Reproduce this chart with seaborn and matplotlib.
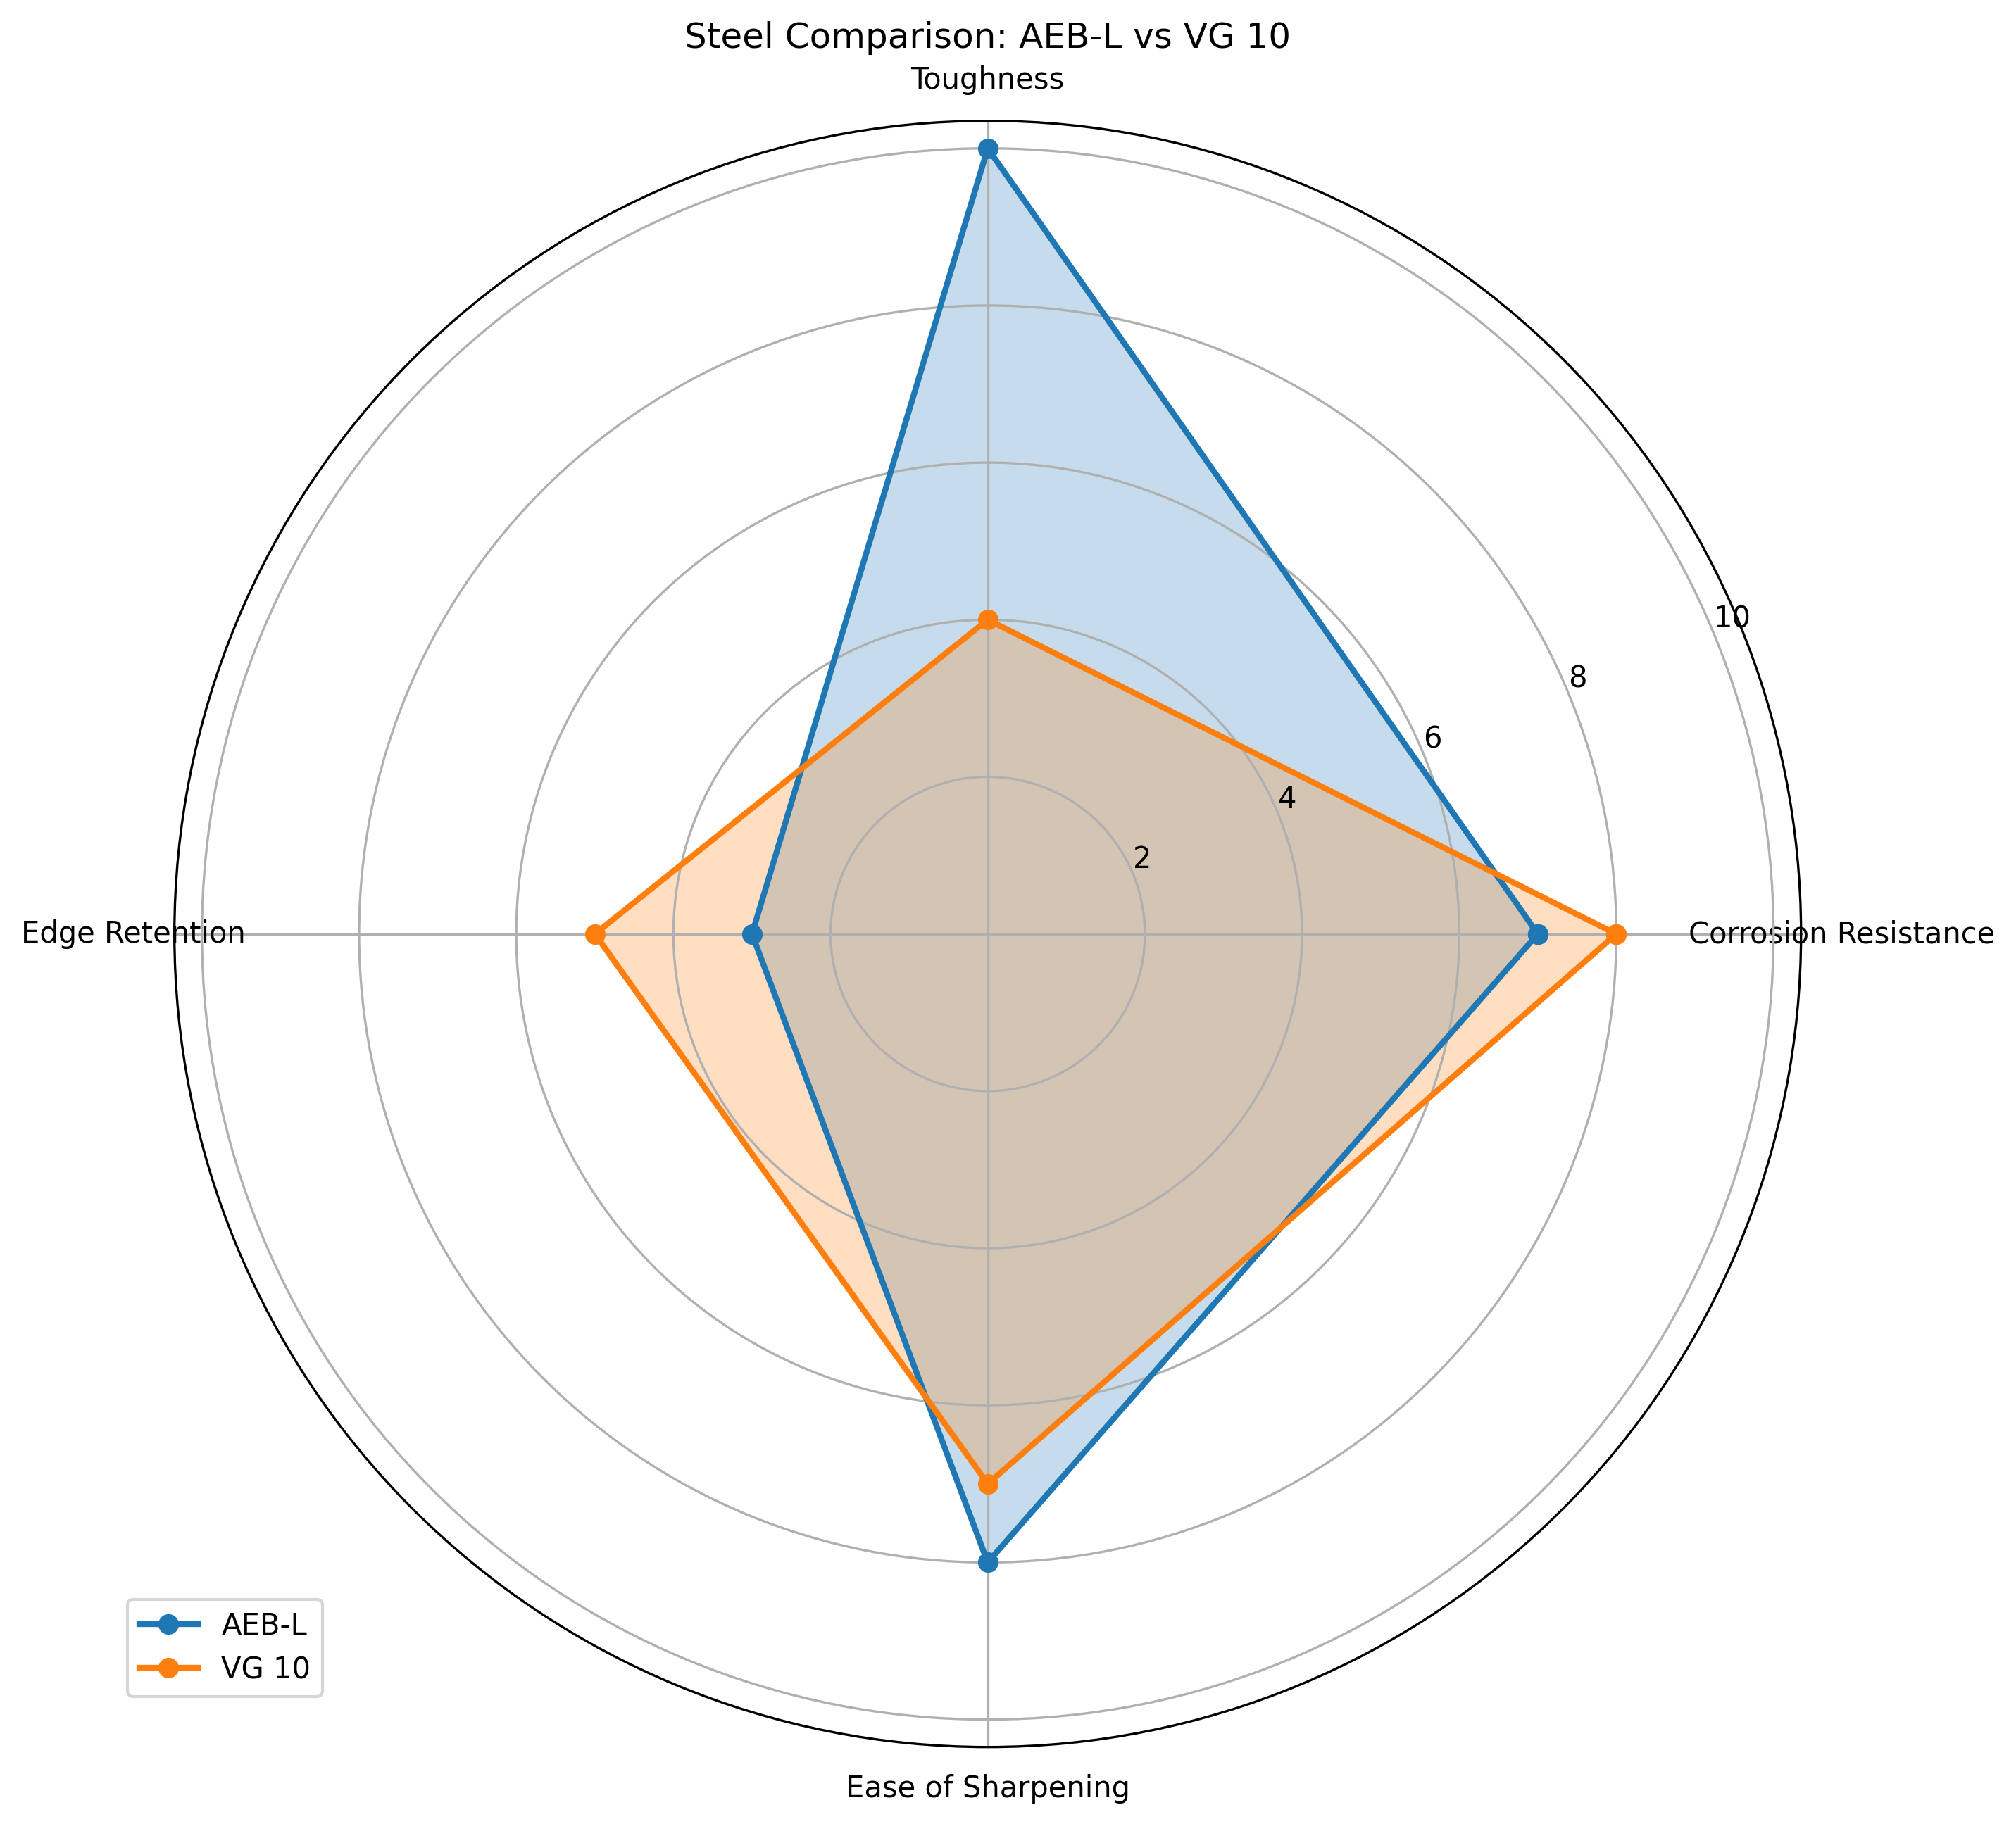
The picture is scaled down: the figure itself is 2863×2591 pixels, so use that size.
import numpy as np
import pandas as pd
import matplotlib
matplotlib.use("Agg")
import matplotlib.pyplot as plt
import seaborn as sns

categories = ["Corrosion Resistance", "Toughness", "Edge Retention", "Ease of Sharpening"]
aebl_values = [7, 10, 3, 8]
vg10_values = [8, 4, 5, 7]
series_names = ["AEB-L", "VG 10"]
colors = ["#1f77b4", "#ff7f0e"]

n = len(categories)
angles = np.linspace(0, 2 * np.pi, n, endpoint=False).tolist()
angles_closed = angles + [angles[0] + 2 * np.pi]

fig = plt.figure(figsize=(10, 10), dpi=300)
ax = fig.add_subplot(111, polar=True)

for name, vals, col in zip(series_names, [aebl_values, vg10_values], colors):
    closed = vals + [vals[0]]
    df = pd.DataFrame({"angle": angles_closed, "value": closed})
    sns.lineplot(data=df, x="angle", y="value", sort=False, ax=ax, color=col,
                 linewidth=2, marker="o", markersize=6, markeredgewidth=1,
                 markeredgecolor=col, label=name, estimator=None)
    ax.fill(angles_closed, closed, color=col, alpha=0.25)

ax.set_xticks(angles)
ax.set_xticklabels(categories)
ax.set_xlabel("")
ax.set_ylabel("")
ax.set_title("Steel Comparison: AEB-L vs VG 10")
ax.legend(loc="upper right", bbox_to_anchor=(0.1, 0.1))

fig.savefig("out.png", dpi=300, bbox_inches="tight")
